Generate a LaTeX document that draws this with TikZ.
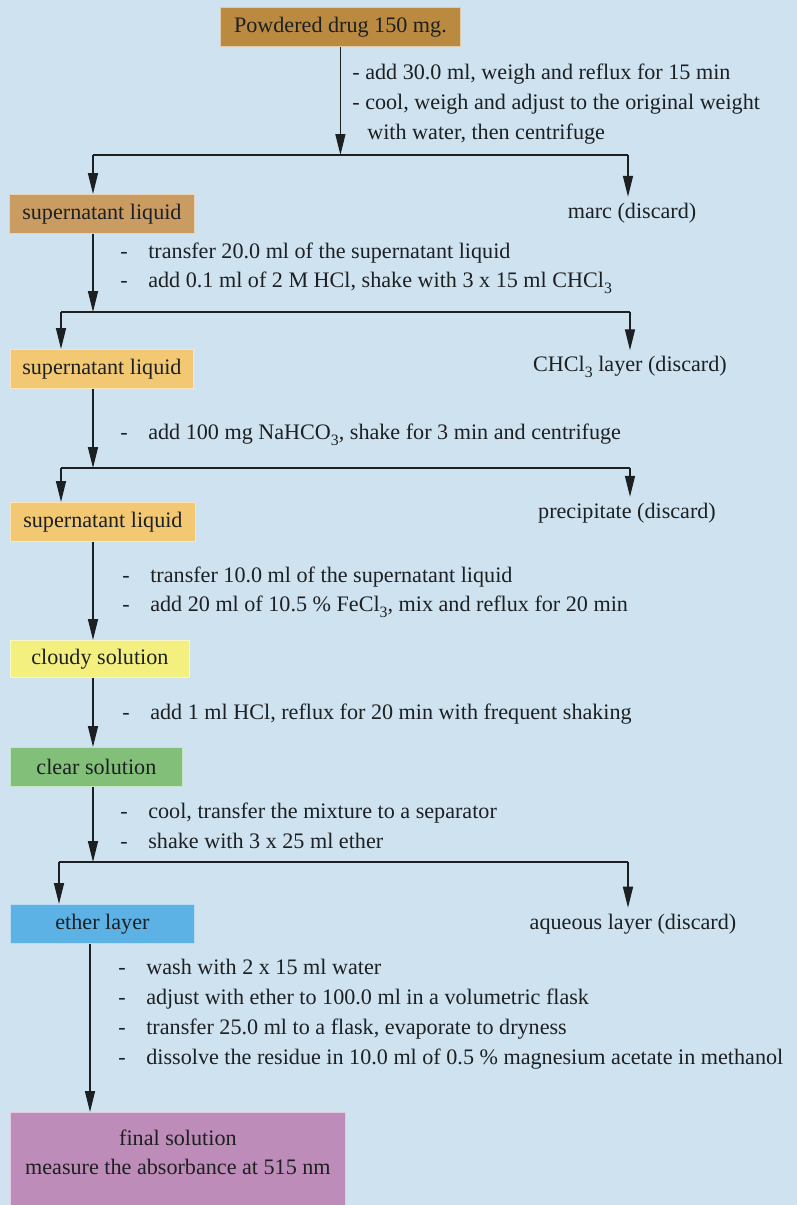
\documentclass[tikz,border=0pt]{standalone}
\usepackage{fontspec}
\setmainfont{Liberation Serif}
\usetikzlibrary{arrows.meta,positioning}

\definecolor{bgblue}{RGB}{207,226,240}
\definecolor{inkdark}{RGB}{28,32,34}
\definecolor{drugbrown}{RGB}{186,138,64}
\definecolor{tanbrown}{RGB}{202,156,98}
\definecolor{lightorange}{RGB}{242,200,114}
\definecolor{cloudyyellow}{RGB}{244,240,128}
\definecolor{cleargreen}{RGB}{130,192,122}
\definecolor{etherblue}{RGB}{92,178,228}
\definecolor{finalpurple}{RGB}{190,140,184}

\newcommand{\sbs}[1]{\raisebox{-0.55ex}{\small #1}}
\newcommand{\dashitem}[1]{\makebox[0.56cm][l]{-}#1}

\begin{document}
\begin{tikzpicture}[x=0.02cm, y=-0.02cm,
  every node/.style={font=\fontsize{12.6}{17}\selectfont, text=inkdark},
  box/.style={fill=#1, draw=white!55!#1, line width=0.5pt, anchor=north west,
    minimum height=0.78cm, inner sep=0pt},
  line/.style={draw=inkdark, line width=0.8pt},
  flow/.style={line, -{Triangle[length=0.42cm, width=0.2cm]}},
  steps/.style={anchor=west, align=left, inner sep=0pt}]

\fill[bgblue] (0,0) rectangle (797,1205);
\useasboundingbox (0,0) rectangle (797,1205);

% trunk and split lines
\coordinate (t)   at (93,0);
\coordinate (t2)  at (90,0);
\coordinate (s1l) at (93,155);  \coordinate (s1r) at (628,155);
\coordinate (s2l) at (61,312);  \coordinate (s2r) at (630,312);
\coordinate (s3l) at (61,468);  \coordinate (s3r) at (630,468);
\coordinate (s4l) at (59,862);  \coordinate (s4r) at (628,862);

% Boxes
\node[box=drugbrown, minimum width=4.8cm] (drug) at (220,7) {Powdered drug 150 mg.};
\node[box=tanbrown, minimum width=3.7cm] (sup1) at (9,194) {supernatant liquid};
\node[box=lightorange, minimum width=3.66cm] (sup2) at (10,349) {supernatant liquid};
\node[box=lightorange, minimum width=3.7cm] (sup3) at (10,502) {supernatant liquid};
\node[box=cloudyyellow, minimum width=3.58cm, minimum height=0.74cm] (cloudy) at (10,640) {cloudy solution};
\node[box=cleargreen, minimum width=3.44cm] (clear) at (10,747) {clear solution};
\node[box=etherblue, minimum width=3.68cm] (ether) at (10,904) {ether layer};
\node[box=finalpurple, minimum width=6.7cm, minimum height=1.86cm, align=center,
  text depth=0.27cm] (final) at (10,1112)
  {final solution\\measure the absorbance at 515 nm};

% Discarded fractions
\node (marc)  at (632,213) {marc (discard)};
\node (chcl)  at (630,367) {CHCl\sbs{3} layer (discard)};
\node (prec)  at (627,513) {precipitate (discard)};
\node (aque)  at (633,924) {aqueous layer (discard)};

% Step texts
\node[steps] (st1) at (352,104) {-~add 30.0 ml, weigh and reflux for 15 min\\
  -~cool, weigh and adjust to the original weight\\
  \hspace{0.3cm}with water, then centrifuge};
\node[steps] (st2) at (120,268) {\dashitem{transfer 20.0 ml of the supernatant liquid}\\
  \dashitem{add 0.1 ml of 2 M HCl, shake with 3 x 15 ml CHCl\sbs{3}}};
\node[steps] (st3) at (120,435) {\dashitem{add 100 mg NaHCO\sbs{3}, shake for 3 min and centrifuge}};
\node[steps] (st4) at (122,592) {\dashitem{transfer 10.0 ml of the supernatant liquid}\\
  \dashitem{add 20 ml of 10.5 \% FeCl\sbs{3}, mix and reflux for 20 min}};
\node[steps] (st5) at (122,714) {\dashitem{add 1 ml HCl, reflux for 20 min with frequent shaking}};
\node[steps] (st6) at (120,826) {\dashitem{cool, transfer the mixture to a separator}\\
  \dashitem{shake with 3 x 25 ml ether}};
\node[steps] (st7) at (118,1014) {\dashitem{wash with 2 x 15 ml water}\\
  \dashitem{adjust with ether to 100.0 ml in a volumetric flask}\\
  \dashitem{transfer 25.0 ml to a flask, evaporate to dryness}\\
  \dashitem{dissolve the residue in 10.0 ml of 0.5 \% magnesium acetate in methanol}};

% Connectors
\draw[flow] (drug.south) -- (drug.south |- s1l);
\draw[line] (s1l) -- (s1r);
\draw[flow] (s1l) -- (sup1.north -| s1l);
\draw[flow] (s1r) -- (marc.north -| s1r);

\draw[flow] (sup1.south -| t) -- (s2l -| t);
\draw[line] (s2l) -- (s2r);
\draw[flow] (s2l) -- (sup2.north -| s2l);
\draw[flow] (s2r) -- (chcl.north -| s2r);

\draw[flow] (sup2.south -| t) -- (s3l -| t);
\draw[line] (s3l) -- (s3r);
\draw[flow] (s3l) -- (sup3.north -| s3l);
\draw[flow] (s3r) -- (prec.north -| s3r);

\draw[flow] (sup3.south -| t) -- (cloudy.north -| t);
\draw[flow] (cloudy.south -| t) -- (clear.north -| t);

\draw[flow] (clear.south -| t) -- (s4l -| t);
\draw[line] (s4l) -- (s4r);
\draw[flow] (s4l) -- (ether.north -| s4l);
\draw[flow] (s4r) -- (aque.north -| s4r);

\draw[flow] (ether.south -| t2) -- (final.north -| t2);

\end{tikzpicture}
\end{document}
